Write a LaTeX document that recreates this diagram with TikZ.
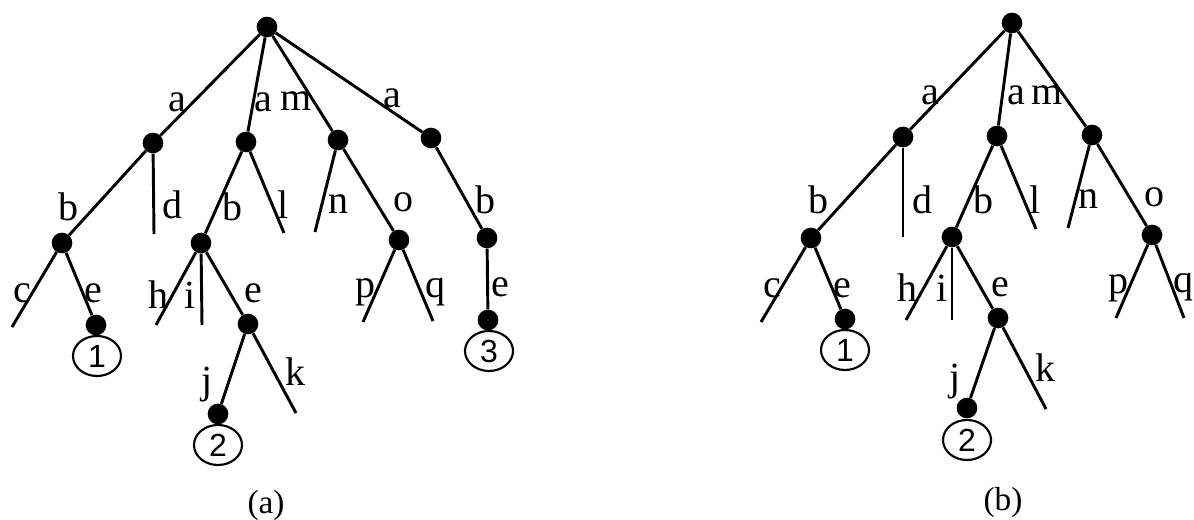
\documentclass[tikz,border=0pt]{standalone}
\usepackage{fontspec}
\setmainfont{Liberation Serif}
\newfontfamily\digitfont{Liberation Sans}
\usetikzlibrary{shapes.geometric}
\tikzset{
  dot/.style={circle,fill=black,inner sep=0pt,minimum size=15.5pt},
  endc/.style={ellipse,draw,line width=1.6pt,inner sep=0pt,minimum width=36pt,minimum height=30pt,font=\digitfont\fontsize{24}{24}\selectfont},
  lbl/.style={inner sep=0pt,font=\fontsize{30}{30}\selectfont},
  captext/.style={inner sep=0pt,font=\fontsize{25}{25}\selectfont},
  branch/.style={line width=2.2pt}
}
\begin{document}
\begin{tikzpicture}[x=0.75pt,y=-0.75pt]
\path[fill=white,use as bounding box] (0,0) rectangle (1194,520);

% ---------------- tree (a) ----------------
\node[dot] (r) at (267,27) {};
\node[dot] (a1) at (153,143) {};
\node[dot] (a2) at (246,142) {};
\node[dot] (a3) at (338,140) {};
\node[dot] (a4) at (431,138) {};
\node[dot] (b1) at (62,243) {};
\coordinate (dl) at (154,234);
\node[dot] (b2) at (201,243) {};
\coordinate (ll) at (284,233);
\coordinate (nl) at (315,232);
\node[dot] (c) at (399,240) {};
\node[dot] (b4) at (487,238) {};
\coordinate (cl) at (12,327);
\node[dot] (e1) at (96,325) {};
\node[endc] (n1) at (97,356) {1};
\coordinate (hl) at (156,325);
\coordinate (il) at (202,325);
\node[dot] (d) at (248,324) {};
\node[dot] (j) at (218,414) {};
\coordinate (kl) at (296,413);
\node[endc] (n2) at (218,445) {2};
\coordinate (pl) at (363,322);
\coordinate (ql) at (433,321);
\node[dot] (e3) at (488,320) {};
\node[endc] (n3) at (489,351) {3};

\draw[branch] (r) -- (a1);
\draw[branch] (r) -- (a2);
\draw[branch] (r) -- (a3);
\draw[branch] (r) -- (a4);
\draw[branch] (a1) -- (b1);
\draw[branch] (a1) -- (dl);
\draw[branch] (a2) -- (b2);
\draw[branch] (a2) -- (ll);
\draw[branch] (a3) -- (nl);
\draw[branch] (a3) -- (c);
\draw[branch] (a4) -- (b4);
\draw[branch] (b1) -- (cl);
\draw[branch] (b1) -- (e1);
\draw[branch] (b2) -- (hl);
\draw[branch] (b2) -- (il);
\draw[branch] (b2) -- (d);
\draw[branch] (d) -- (j);
\draw[branch] (d) -- (kl);
\draw[branch] (c) -- (pl);
\draw[branch] (c) -- (ql);
\draw[branch] (b4) -- (e3);

\node[lbl] (la1) at (177,102) {a};
\node[lbl] (la2) at (263,102) {a};
\node[lbl] (lm) at (296,101) {m};
\node[lbl] (la4) at (392,98) {a};
\node[lbl] (lb1) at (68,207) {b};
\node[lbl] (ld) at (172,205) {d};
\node[lbl] (lb2) at (232,207) {b};
\node[lbl] (ll1) at (283,205) {l};
\node[lbl] (ln) at (338,204) {n};
\node[lbl] (lo) at (403,202) {o};
\node[lbl] (lb4) at (485,200) {b};
\node[lbl] (lc) at (22,293) {c};
\node[lbl] (le1) at (93,293) {e};
\node[lbl] (lh) at (158,295) {h};
\node[lbl] (li) at (190,295) {i};
\node[lbl] (le2) at (253,293) {e};
\node[lbl] (lp) at (365,292) {p};
\node[lbl] (lq) at (435,292) {q};
\node[lbl] (le3) at (500,287) {e};
\node[lbl] (lj) at (207,385) {j};
\node[lbl] (lk) at (295,372) {k};
\node[captext] (capa) at (266,505) {(a)};

% ---------------- tree (b) ----------------
\node[dot] (R) at (1012,23) {};
\node[dot] (A1) at (903,137) {};
\node[dot] (A2) at (997,136) {};
\node[dot] (A3) at (1092,135) {};
\node[dot] (B1) at (811,238) {};
\coordinate (DL) at (903,237);
\node[dot] (B2) at (952,237) {};
\coordinate (LL) at (1036,229);
\coordinate (NL) at (1068,228);
\node[dot] (C) at (1152,235) {};
\coordinate (CL) at (761,322);
\node[dot] (E1) at (845,319) {};
\node[endc] (N1) at (845,350) {1};
\coordinate (HL) at (906,320);
\coordinate (IL) at (952,320);
\node[dot] (D) at (998,318) {};
\node[dot] (J) at (967,408) {};
\coordinate (KL) at (1046,409);
\node[endc] (N2) at (967,440) {2};
\coordinate (PL) at (1116,318);
\coordinate (QL) at (1184,318);

\draw[branch] (R) -- (A1);
\draw[branch] (R) -- (A2);
\draw[branch] (R) -- (A3);
\draw[branch] (A1) -- (B1);
\draw[branch] (A1) -- (DL);
\draw[branch] (A2) -- (B2);
\draw[branch] (A2) -- (LL);
\draw[branch] (A3) -- (NL);
\draw[branch] (A3) -- (C);
\draw[branch] (B1) -- (CL);
\draw[branch] (B1) -- (E1);
\draw[branch] (B2) -- (HL);
\draw[branch] (B2) -- (IL);
\draw[branch] (B2) -- (D);
\draw[branch] (D) -- (J);
\draw[branch] (D) -- (KL);
\draw[branch] (C) -- (PL);
\draw[branch] (C) -- (QL);

\node[lbl] (LA1) at (930,95) {a};
\node[lbl] (LA2) at (1016,95) {a};
\node[lbl] (LM) at (1047,95) {m};
\node[lbl] (LB1) at (818,200) {b};
\node[lbl] (LD) at (922,200) {d};
\node[lbl] (LB2) at (983,200) {b};
\node[lbl] (LL1) at (1035,200) {l};
\node[lbl] (LN) at (1088,199) {n};
\node[lbl] (LO) at (1154,197) {o};
\node[lbl] (LC) at (772,288) {c};
\node[lbl] (LE1) at (842,288) {e};
\node[lbl] (LH) at (907,288) {h};
\node[lbl] (LI) at (942,288) {i};
\node[lbl] (LE2) at (1000,287) {e};
\node[lbl] (LP) at (1118,288) {p};
\node[lbl] (LQ) at (1183,287) {q};
\node[lbl] (LJ) at (955,382) {j};
\node[lbl] (LK) at (1045,368) {k};
\node[captext] (capb) at (1003,502) {(b)};
\end{tikzpicture}
\end{document}
